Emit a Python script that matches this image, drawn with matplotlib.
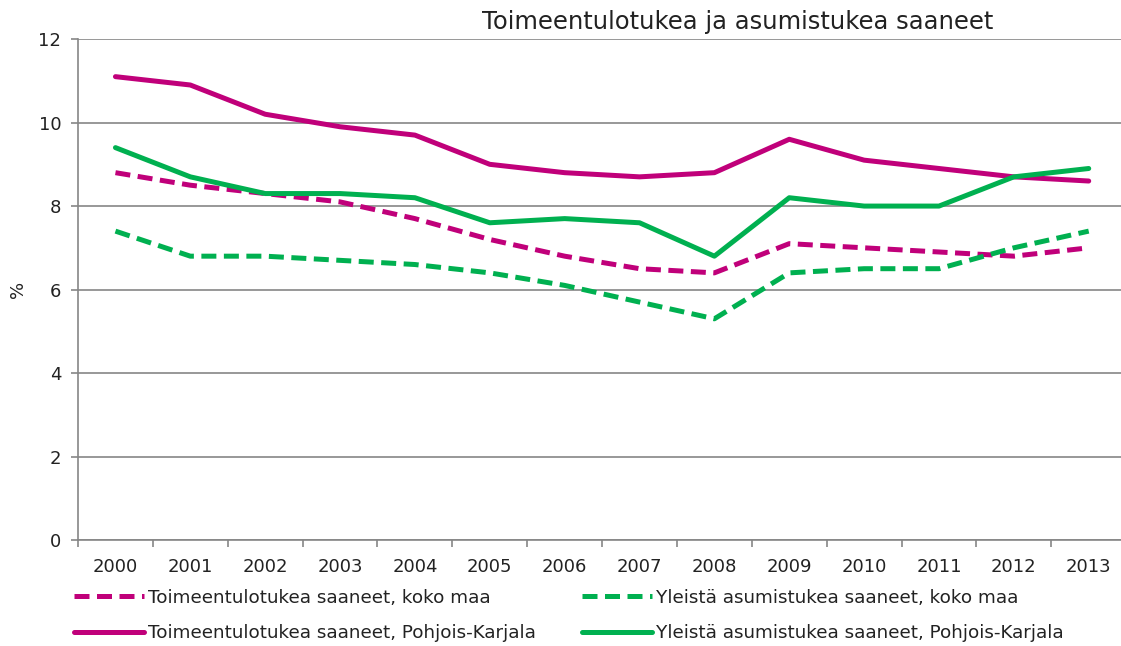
import numpy as np
import matplotlib
matplotlib.use('Agg')
import matplotlib.pyplot as plt

# vuodet ja sarjat (%)
vuodet = ['2000', '2001', '2002', '2003', '2004', '2005', '2006',
          '2007', '2008', '2009', '2010', '2011', '2012', '2013']
toimeentulo_koko_maa = [8.8, 8.5, 8.3, 8.1, 7.7, 7.2, 6.8, 6.5, 6.4, 7.1, 7.0, 6.9, 6.8, 7.0]
asumis_koko_maa = [7.4, 6.8, 6.8, 6.7, 6.6, 6.4, 6.1, 5.7, 5.3, 6.4, 6.5, 6.5, 7.0, 7.4]
toimeentulo_pk = [11.1, 10.9, 10.2, 9.9, 9.7, 9.0, 8.8, 8.7, 8.8, 9.6, 9.1, 8.9, 8.7, 8.6]
asumis_pk = [9.4, 8.7, 8.3, 8.3, 8.2, 7.6, 7.7, 7.6, 6.8, 8.2, 8.0, 8.0, 8.7, 8.9]

magenta = '#C0007A'
vihrea = '#00B050'
harmaa = '#868686'
teksti = '#222222'

plt.rcParams['font.family'] = ['DejaVu Sans']
fig = plt.figure(figsize=(11.21, 6.46), dpi=100)
ax = fig.add_axes([0.0696, 0.164, 0.935, 0.7755])

x = np.arange(len(vuodet))
lw = 3.6
l1, = ax.plot(x, toimeentulo_koko_maa, color=magenta, lw=lw, ls=(0, (3, 1.5)),
              label='Toimeentulotukea saaneet, koko maa')
l2, = ax.plot(x, asumis_koko_maa, color=vihrea, lw=lw, ls=(0, (3, 1.5)),
              label='Yleistä asumistukea saaneet, koko maa')
l3, = ax.plot(x, toimeentulo_pk, color=magenta, lw=lw, solid_capstyle='round',
              label='Toimeentulotukea saaneet, Pohjois-Karjala')
l4, = ax.plot(x, asumis_pk, color=vihrea, lw=lw, solid_capstyle='round',
              label='Yleistä asumistukea saaneet, Pohjois-Karjala')

ax.set_xlim(-0.5, len(vuodet) - 0.5)
ax.set_ylim(0, 12)
ax.set_yticks(range(0, 13, 2))
ax.yaxis.grid(True, color=harmaa, lw=1.2)
ax.set_axisbelow(True)

ax.set_xticks(x)
ax.set_xticklabels(vuodet, fontsize=13, color=teksti)
ax.set_xticks(np.arange(-0.5, len(vuodet), 1), minor=True)
ax.tick_params(axis='x', which='major', length=0, pad=13)
ax.tick_params(axis='x', which='minor', length=5, color=harmaa, width=1.2)
ax.tick_params(axis='y', length=5, color=harmaa, width=1.2, labelsize=13,
               labelcolor=teksti, pad=7)

for s in ['top', 'right']:
    ax.spines[s].set_visible(False)
for s in ['left', 'bottom']:
    ax.spines[s].set_color(harmaa)
    ax.spines[s].set_linewidth(1.2)

ax.set_ylabel('%', fontsize=13, color=teksti)
ax.yaxis.set_label_coords(-0.049, 0.5)
fig.text(0.658, 0.966, 'Toimeentulotukea ja asumistukea saaneet',
         ha='center', va='center', fontsize=17.5, color=teksti)

fig.legend(handles=[l1, l3, l2, l4], ncol=2, loc='upper left',
           bbox_to_anchor=(0.066, 0.089), frameon=False, fontsize=13.2,
           labelcolor=teksti, handlelength=3.8, handletextpad=0.25,
           columnspacing=2.5, labelspacing=0.95, borderaxespad=0, borderpad=0)

fig.savefig('out.png', dpi=100)
